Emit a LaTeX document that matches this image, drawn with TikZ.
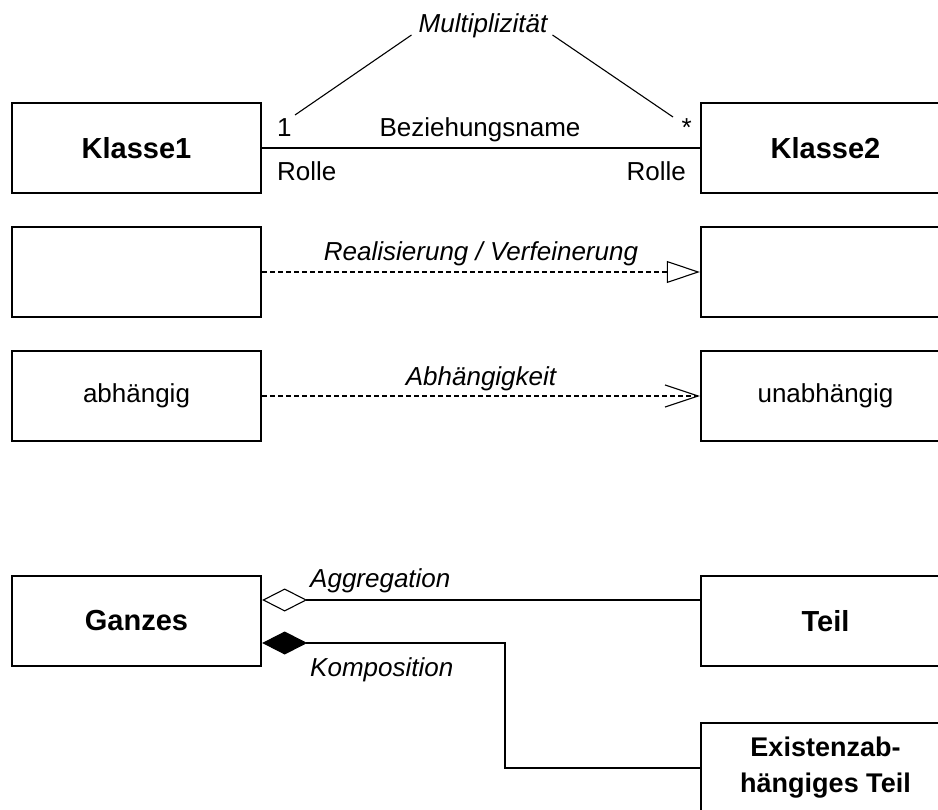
\documentclass[tikz,border=0pt]{standalone}
\usepackage{fontspec}
\setmainfont{Liberation Sans}
\usepackage{tikz}
\usetikzlibrary{
  arrows.meta,%
  positioning,%
  calc
}
\tikzset{>=latex}
\tikzset{font=\fontsize{26}{30}\selectfont}
\tikzset{klasse/.style={draw, line width=2.4pt, minimum width=249pt,
    minimum height=90pt, inner sep=0pt, align=center}}
\tikzset{titel/.style={font=\fontsize{29}{36}\selectfont\bfseries}}
\tikzset{kursiv/.style={font=\fontsize{26}{30}\selectfont\itshape}}
\tikzset{beschr/.style={inner sep=0pt, anchor=base}}
\tikzset{verb/.style={line width=1.1pt}}
\tikzset{gestrichelt/.style={verb, dash pattern=on 5pt off 3pt}}

\begin{document}
\begin{tikzpicture}[x=1pt, y=-1pt]
  \useasboundingbox (0,0) rectangle (938,810);
  % Assoziation
  \node[klasse, titel] (k1) at (136.5,148) {Klasse1};
  \node[klasse, titel] (k2) at (825.5,148) {Klasse2};
  \draw[verb] (k1) -- (k2);
  \node[beschr] (bez) at (480,137) {Beziehungsname};
  \node[beschr, anchor=base west] (eins) at (277,137) {1};
  \node[beschr, anchor=base east] (stern) at (692,137) {*};
  \node[beschr, anchor=base west] (rolle1) at (277,181) {Rolle};
  \node[beschr, anchor=base east] (rolle2) at (686,181) {Rolle};
  \node[beschr, kursiv] (mult) at (483,33) {Multiplizit\"at};
  \coordinate (m1) at (295,115);
  \coordinate (m2) at (673,117);
  \draw[verb] ([xshift=-7pt]mult.north west |- 0,35) -- (m1);
  \draw[verb] ([xshift=5pt]mult.north east |- 0,35) -- (m2);
  % Realisierung
  \node[klasse] (r1) at (136.5,272) {};
  \node[klasse] (r2) at (825.5,272) {};
  \draw[gestrichelt, -{Triangle[open, length=33pt, width=22pt]}] (r1) -- (r2)
    node[beschr, kursiv, pos=0.5, yshift=11pt] (real) {Realisierung / Verfeinerung};
  % Abhaengigkeit
  \node[klasse] (a1) at (136.5,396) {abh\"angig};
  \node[klasse] (a2) at (825.5,396) {unabh\"angig};
  \draw[gestrichelt, -{Straight Barb[length=33pt, width=22pt]}] (a1) -- (a2)
    node[beschr, kursiv, pos=0.5, yshift=10pt] (abh) {Abh\"angigkeit};
  % Aggregation und Komposition
  \node[klasse, titel] (ganz) at (136.5,621) {Ganzes};
  \node[klasse, titel] (teil) at (825.5,621) {Teil};
  \node[klasse, titel, font=\fontsize{27}{36}\selectfont\bfseries] (ext) at (825.5,768) {Existenzab-\\h\"angiges Teil};
  \draw[verb, {Diamond[open, length=45pt, width=23pt]}-] ([yshift=21pt]ganz.east) -- (teil.west |- 0,600);
  \draw[verb, {Diamond[length=45pt, width=23pt]}-] ([yshift=-22pt]ganz.east) -- (505,643) |- (ext.west);
  \node[beschr, kursiv, anchor=base west] (agg) at (310,587) {Aggregation};
  \node[beschr, kursiv, anchor=base west] (komp) at (310,676) {Komposition};
\end{tikzpicture}
\end{document}
